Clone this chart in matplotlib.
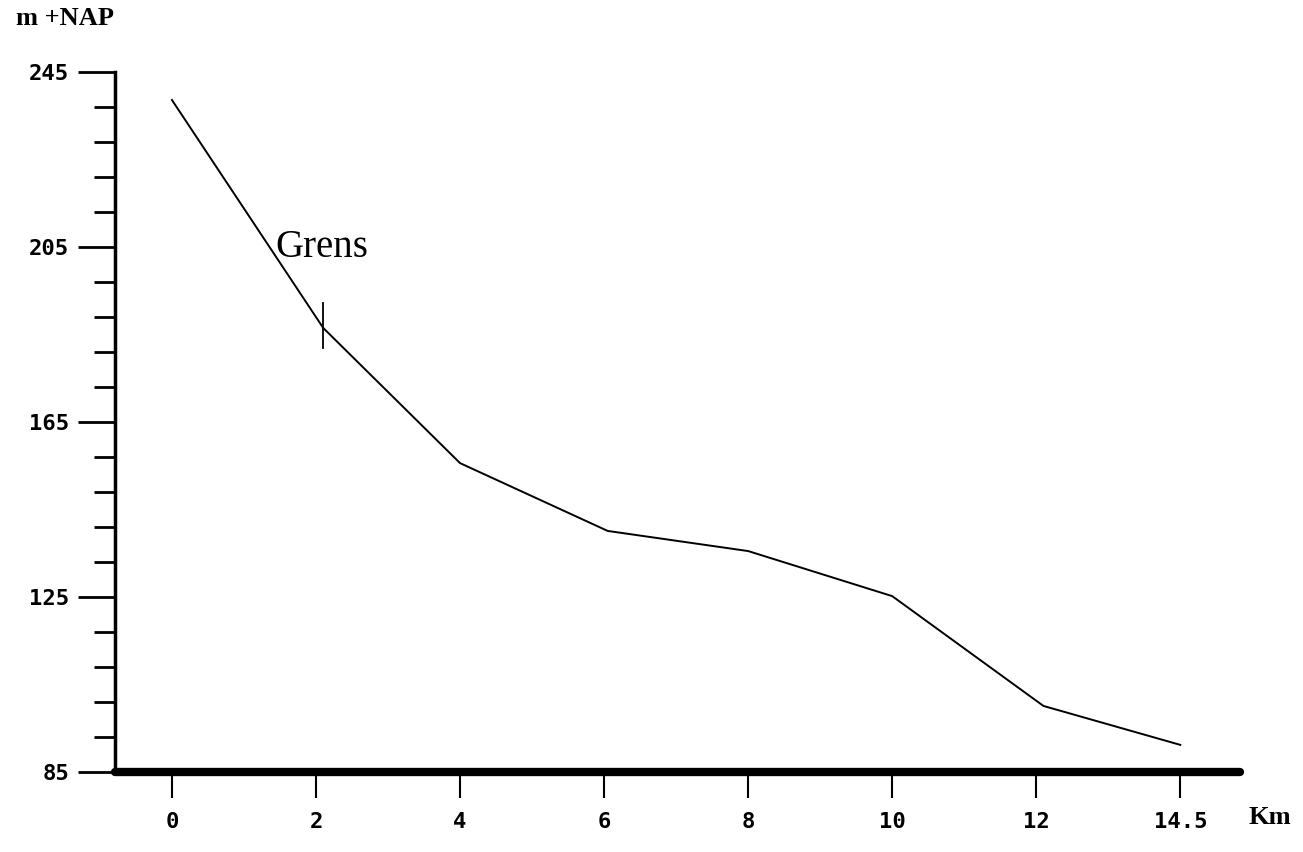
import matplotlib.pyplot as plt
from matplotlib.ticker import MultipleLocator

# profile: distance position (km) and height (m +NAP)
afstand = [0, 2.1, 4.0, 6.05, 8.0, 10.0, 12.1, 14.0]
hoogte = [238.6, 186.5, 155.6, 140.1, 135.5, 125.2, 100.1, 91.2]

x_ticks = [0, 2, 4, 6, 8, 10, 12, 14]
x_labels = ['0', '2', '4', '6', '8', '10', '12', '14.5']
y_ticks = [85, 125, 165, 205, 245]

grens_x = 2.1
grens_y = (181.9, 192.2)

fig = plt.figure(figsize=(13.03, 8.52), dpi=100)
ax = fig.add_axes([0.0883, 0.0939, 0.8634, 0.8216])

ax.plot(afstand, hoogte, color='black', linewidth=1.4)
ax.plot([grens_x, grens_x], grens_y, color='black', linewidth=1.3)
ax.text(1.43, 204.8, 'Grens', family='Liberation Serif', fontsize=28,
        va='center', ha='left')

ax.set_xlim(-0.79, 14.83)
ax.set_ylim(85, 245)

for side in ['top', 'right']:
    ax.spines[side].set_visible(False)
ax.spines['left'].set_linewidth(2.5)
ax.spines['bottom'].set_linewidth(6)
ax.spines['bottom'].set_capstyle('round')

ax.set_xticks(x_ticks)
ax.set_xticklabels(x_labels)
ax.set_yticks(y_ticks)
ax.yaxis.set_minor_locator(MultipleLocator(8, offset=85))

ax.tick_params(axis='y', which='major', length=27, width=2, direction='out',
               pad=6, labelsize=16)
ax.tick_params(axis='y', which='minor', length=15, width=2, direction='out')
ax.tick_params(axis='x', which='major', length=19, width=1.5, direction='out',
               pad=10, labelsize=16)
for lab in ax.get_xticklabels() + ax.get_yticklabels():
    lab.set_family('DejaVu Sans Mono')
    lab.set_fontweight('bold')

fig.text(0.012, 0.978, 'm +NAP', family='Liberation Serif', fontweight='bold',
         fontsize=19, va='center', ha='left')
fig.text(0.958, 0.040, 'Km', family='Liberation Serif', fontweight='bold',
         fontsize=19, va='center', ha='left')

fig.savefig('out.png', dpi=100)
